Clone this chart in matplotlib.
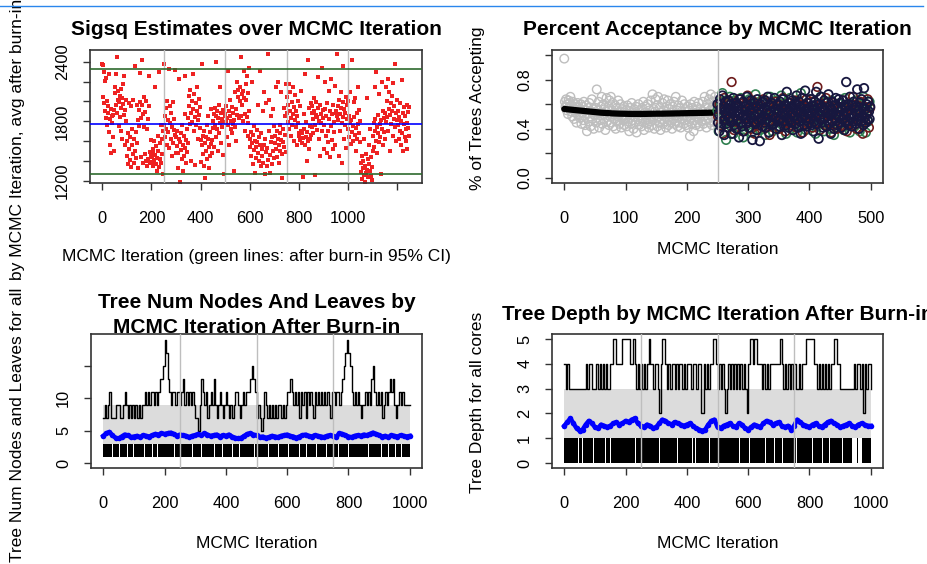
import numpy as np
import matplotlib.pyplot as plt
from matplotlib.patches import Rectangle
from matplotlib.lines import Line2D

# ---- data ----
# sigsq draws, one every ~2 iterations from 0 to 1250
sigsq = [
    2380, 2370, 2050, 1980, 2300, 2210, 1900, 2240, 1830, 2000, 1760, 1950, 1880, 1690, 2280, 1820, 1560, 1920, 1480, 1850, 1780, 1640, 1860, 1910, 1500,
    2090, 2150, 1960, 2280, 2450, 1880, 2020, 2110, 1750, 1990, 2060, 1840, 2130, 1700, 1930, 2040, 1620, 2180, 1970, 1860, 2260, 1910, 1560, 1800, 2010,
    1600, 1450, 1370, 1680, 1980, 1520, 1410, 1640, 1950, 1340, 1560, 1720, 1470, 2020, 1620, 1380, 1500, 2360, 1690, 1430, 1960, 1580, 1330, 1810, 1750,
    1910, 1990, 2290, 1830, 1440, 1960, 2420, 1380, 1870, 1740, 2050, 1470, 1890, 1400, 2000, 1350, 1720, 1820, 1420, 2260, 1950, 1490, 1380, 1610, 1450,
    1440, 1390, 1520, 1350, 1480, 1600, 1410, 2150, 1460, 1370, 1550, 1300, 1430, 1650, 1500, 1340, 2300, 1420, 1580, 1760, 1380, 1620, 1470, 1270, 1700,
    1760, 2380, 1850, 1640, 1930, 1720, 1560, 2000, 1810, 1690, 2330, 1530, 1780, 1950, 1620, 1880, 1450, 1740, 1990, 1580, 1820, 1710, 2320, 1660, 1480,
    1640, 1550, 1700, 1480, 1330, 1620, 2230, 1590, 1190, 1680, 1510, 1420, 1760, 1560, 1300, 1650, 1450, 1870, 1530, 2260, 1610, 1380, 1720, 1490, 1580,
    1830, 2060, 1950, 1770, 2120, 1880, 1400, 2000, 1790, 2280, 1920, 1700, 2080, 1840, 1360, 1980, 1760, 1900, 2150, 1810, 1620, 1860, 2030, 1730, 1940,
    1610, 1390, 1560, 2380, 1650, 1470, 1700, 1350, 1580, 1230, 1640, 1500, 1760, 1420, 1620, 1850, 1540, 1330, 1690, 1450, 1920, 1570, 1610, 1480, 1730,
    1800, 1870, 1540, 1930, 1760, 2400, 1850, 1640, 1900, 1720, 1500, 1830, 1960, 1680, 1780, 2150, 1580, 1880, 1740, 1820, 1460, 1910, 1790, 1270, 1850,
    1870, 1790, 1950, 1640, 1830, 2310, 1760, 1900, 1560, 1850, 2020, 1720, 1800, 1680, 1940, 1770, 1880, 1300, 1810, 2100, 1740, 1920, 1600, 1860, 2200,
    2050, 2120, 2540, 1830, 2000, 2150, 2450, 1850, 2080, 1960, 2110, 1800, 2310, 2040, 1870, 1700, 2180, 2020, 1840, 2260, 1780, 2090, 1650, 1900, 2340,
    1620, 1540, 1690, 1450, 1580, 2200, 1370, 1660, 1510, 1750, 1600, 1280, 1540, 1430, 1710, 1590, 1960, 1480, 1640, 1400, 2310, 1560, 1350, 1680, 1520,
    1450, 1900, 1380, 1560, 2100, 1270, 1620, 1490, 1980, 1350, 1530, 2480, 1410, 1700, 2020, 1460, 1280, 1590, 1850, 1370, 1640, 1920, 1500, 1430, 1750,
    1580, 1650, 2150, 1520, 1700, 1440, 1620, 2200, 1560, 1380, 1680, 1760, 1500, 2100, 1610, 1470, 1230, 1720, 1590, 1930, 1540, 1660, 1850, 1490, 2180,
    1880, 2050, 1790, 1960, 2180, 1720, 1900, 2100, 1830, 1650, 1990, 1760, 2150, 1870, 1600, 1940, 1810, 2070, 1740, 1900, 1560, 1850, 2000, 1780, 1680,
    1650, 1610, 1950, 1700, 2110, 1580, 1680, 1240, 1630, 1870, 1720, 1560, 2280, 1640, 1790, 1400, 1690, 2420, 1600, 1930, 1520, 1750, 1620, 1980, 1660,
    1880, 1740, 1950, 1820, 1680, 2040, 1900, 1760, 1260, 1860, 1990, 1710, 1840, 2250, 1930, 1620, 1800, 1960, 1450, 1870, 1780, 2340, 1700, 1910, 1830,
    1760, 1520, 1920, 2200, 1650, 1850, 1480, 1980, 1700, 1590, 2110, 1820, 1440, 1900, 1750, 2230, 1610, 1870, 1520, 1960, 1690, 1790, 2160, 1560, 1880,
    1900, 1850, 2480, 1950, 1810, 1450, 2020, 1870, 1700, 1930, 2100, 1780, 1380, 1990, 1840, 2360, 1620, 1920, 1760, 1880, 2050, 1530, 1960, 1820, 2000,
    1720, 1850, 1640, 2100, 1780, 1570, 1810, 2420, 1690, 1750, 1600, 1990, 1840, 1660, 2040, 1730, 1500, 1880, 1620, 2150, 1770, 1680, 1910, 1590, 1800,
    1380, 1290, 1450, 1220, 1330, 1400, 1260, 1620, 1190, 1350, 1470, 1280, 2040, 1310, 1420, 1240, 1560, 1370, 1300, 1720, 1250, 1440, 1340, 1210, 1500,
    1650, 1780, 1540, 2150, 1700, 1820, 1600, 2300, 1740, 1480, 1860, 1680, 2080, 1590, 1770, 1640, 1270, 1810, 1720, 2200, 1560, 1900, 1690, 1830, 1620,
    1880, 2150, 1790, 2000, 1840, 2230, 1700, 1920, 2100, 1860, 1500, 1980, 1770, 2060, 1900, 1650, 2190, 1820, 1950, 1740, 2380, 1880, 1600, 2020, 1810,
    1760, 1900, 1620, 1840, 1700, 1980, 1560, 1800, 2220, 1680, 1880, 1500, 1770, 1940, 1640, 1850, 1720, 1600, 1960, 1780, 1520, 1890, 1730, 1940, 1650,
]
sigsq_last_iter = 1249
sigsq_avg = 1775
sigsq_ci = [1272, 2322]
marks_sigsq = [250, 500, 750, 1000]

# percent of trees accepting (in %), burn-in chain then three chains after burn-in
acc_burn = [
    97, 62, 58, 64, 55, 60, 52, 63, 57, 61, 66, 54, 59, 50, 62, 56, 48, 60, 53, 58, 45, 57, 61, 51, 55,
    49, 56, 60, 44, 53, 58, 47, 62, 51, 43, 55, 59, 38, 52, 57, 46, 61, 50, 42, 54, 64, 48, 56, 40, 53,
    51, 57, 45, 72, 49, 55, 62, 41, 53, 47, 58, 66, 44, 52, 60, 48, 56, 39, 54, 65, 46, 51, 58, 43, 63,
    50, 66, 45, 55, 61, 42, 53, 48, 59, 40, 52, 57, 46, 63, 50, 44, 54, 60, 41, 49, 56, 47, 58, 43, 51,
    48, 55, 42, 59, 46, 52, 38, 57, 49, 44, 61, 47, 53, 40, 56, 50, 45, 58, 37, 52, 48, 60, 43, 55, 46,
    51, 42, 57, 47, 62, 39, 53, 45, 58, 49, 44, 60, 52, 41, 55, 46, 63, 50, 43, 68, 48, 56, 40, 54, 64,
    47, 59, 42, 66, 50, 45, 57, 39, 53, 48, 61, 44, 55, 64, 46, 52, 41, 58, 49, 63, 43, 56, 47, 60, 45,
    53, 40, 58, 48, 62, 44, 51, 66, 46, 55, 42, 59, 50, 45, 57, 41, 54, 63, 48, 52, 44, 60, 47, 56, 43,
    50, 58, 41, 55, 46, 34, 60, 49, 44, 57, 52, 38, 62, 47, 53, 43, 58, 50, 45, 61, 48, 42, 56, 51, 46,
    54, 62, 44, 50, 66, 47, 57, 41, 53, 60, 48, 64, 45, 55, 68, 50, 43, 58, 62, 46, 52, 66, 49, 57, 44,
]
acc_navy = [
    60, 45, 52, 38, 64, 56, 42, 50, 67, 47, 58, 35, 54, 62, 44, 51, 57, 41, 63, 49, 55, 46, 60, 36, 53,
    48, 65, 43, 57, 51, 61, 40, 55, 47, 59, 33, 52, 64, 45, 56, 42, 50, 62, 38, 54, 48, 58, 44, 66, 51,
    46, 59, 41, 55, 63, 49, 53, 31, 57, 45, 61, 50, 44, 58, 39, 64, 52, 47, 56, 30, 60, 48, 54, 42, 62,
    50, 57, 45, 63, 41, 55, 48, 66, 52, 37, 59, 46, 54, 61, 43, 50, 58, 44, 65, 49, 56, 40, 53, 60, 47,
    55, 42, 62, 48, 57, 35, 53, 64, 46, 51, 59, 43, 56, 70, 49, 54, 41, 61, 47, 58, 45, 52, 63, 39, 57,
    50, 60, 44, 55, 67, 48, 53, 41, 62, 46, 58, 36, 54, 65, 49, 51, 43, 59, 71, 47, 56, 42, 61, 52, 45,
    57, 48, 64, 43, 53, 59, 38, 55, 46, 62, 50, 70, 44, 57, 52, 32, 60, 48, 54, 66, 45, 58, 41, 56, 63,
    49, 55, 42, 61, 53, 47, 68, 44, 58, 51, 36, 56, 62, 46, 53, 40, 59, 48, 65, 52, 43, 57, 50, 64, 45,
    54, 61, 41, 56, 48, 63, 51, 39, 58, 45, 78, 53, 47, 60, 43, 55, 66, 49, 52, 42, 59, 46, 62, 50, 57,
    44, 58, 52, 72, 47, 55, 40, 61, 53, 46, 64, 50, 57, 43, 73, 49, 56, 45, 60, 52, 47, 62, 54, 48, 58,
]
acc_green = [
    55, 38, 62, 48, 69, 44, 57, 31, 60, 50, 66, 42, 54, 36, 63, 47, 58, 40, 52, 65, 45, 33, 59, 49, 56,
    41, 64, 53, 37, 60, 46, 68, 51, 43, 57, 39, 62, 48, 55, 35, 61, 50, 44, 66, 53, 38, 58, 46, 63, 41,
    56, 49, 67, 43, 52, 60, 36, 54, 47, 65, 40, 58, 51, 44, 62, 37, 55, 48, 69, 42, 57, 50, 39, 61, 46,
    53, 64, 41, 58, 47, 36, 60, 52, 44, 66, 49, 55, 38, 62, 50, 45, 57, 40, 63, 51, 35, 59, 47, 54, 43,
    61, 48, 56, 39, 65, 52, 44, 58, 37, 60, 49, 55, 42, 63, 47, 53, 38, 59, 45, 66, 50, 37, 57, 46, 62,
]
acc_red = [
    50, 60, 43, 57, 36, 65, 48, 53, 41, 62, 46, 78, 55, 39, 59, 47, 52, 64, 44, 56, 38, 61, 49, 54, 67,
    45, 58, 40, 63, 51, 36, 57, 47, 60, 43, 55, 49, 64, 41, 52, 58, 46, 35, 61, 50, 44, 56, 62, 48, 53,
    40, 59, 47, 65, 52, 38, 56, 45, 61, 50, 43, 57, 48, 63, 41, 54, 60, 46, 51, 37, 58, 49, 64, 44, 55,
    47, 62, 41, 56, 51, 45, 74, 53, 39, 60, 48, 57, 43, 65, 50, 46, 59, 37, 54, 61, 44, 52, 40, 58, 49,
    56, 42, 63, 48, 53, 38, 60, 46, 57, 51, 66, 43, 55, 40, 59, 47, 62, 50, 36, 58, 45, 53, 64, 41, 57,
]
# smoothed acceptance over burn-in, every 10 iterations
acc_smooth = [0.561, 0.556, 0.551, 0.546, 0.541, 0.536, 0.531, 0.528, 0.525, 0.523, 0.522, 0.521, 0.521,
              0.521, 0.522, 0.523, 0.523, 0.524, 0.525, 0.526, 0.527, 0.528, 0.529, 0.530, 0.531, 0.532]
burnin = 250

# tree size after burn-in: max over trees every 5 iterations, mean every 10
nodes_max = [
    7, 9, 7, 9, 11, 7, 7, 7, 9, 9, 9, 7, 7, 9, 11, 9, 7, 9, 7, 9,
    7, 9, 7, 9, 7, 9, 9, 11, 9, 11, 9, 11, 11, 9, 11, 9, 11, 13, 13, 15,
    19, 17, 13, 11, 9, 11, 11, 9, 11, 11, 9, 11, 13, 9, 11, 9, 11, 9, 11, 9,
    7, 7, 5, 9, 13, 11, 9, 11, 7, 9, 11, 9, 13, 9, 7, 9, 11, 9, 7, 9,
    11, 9, 7, 9, 7, 9, 11, 11, 9, 7, 9, 11, 9, 11, 11, 11, 13, 15, 13, 11,
    7, 9, 7, 5, 7, 11, 9, 7, 9, 7, 9, 7, 9, 7, 9, 9, 7, 9, 7, 9,
    11, 11, 13, 11, 9, 11, 9, 11, 7, 11, 9, 11, 7, 11, 9, 11, 9, 7, 11, 9,
    11, 9, 11, 9, 11, 9, 11, 9, 7, 11, 11, 9, 11, 11, 9, 11, 13, 15, 17, 19,
    17, 15, 11, 9, 11, 9, 11, 9, 7, 9, 9, 11, 9, 11, 9, 13, 15, 11, 9, 11,
    9, 11, 7, 9, 11, 9, 11, 13, 11, 13, 9, 7, 9, 11, 9, 11, 9, 9, 9, 9, 9,
]
nodes_mean = [
    4.2, 4.6, 4.8, 4.3, 3.9, 3.8, 4.1, 4.4, 4.3, 4.0, 4.1, 4.2, 4.0, 4.3, 4.2, 4.1, 4.3, 4.5, 4.4, 4.6,
    4.5, 4.6, 4.7, 4.5, 4.2, 4.4, 4.3, 4.2, 4.0, 4.2, 4.3, 4.5, 4.3, 4.6, 4.4, 4.2, 4.3, 4.4, 4.1, 4.3,
    4.2, 4.4, 4.1, 3.9, 3.8, 3.9, 4.2, 4.5, 4.6, 4.4, 4.3, 4.0, 4.1, 3.9, 4.0, 4.2, 4.1, 4.0, 4.2, 4.3,
    4.4, 4.2, 4.1, 3.9, 4.1, 4.3, 4.4, 4.2, 4.1, 4.3, 4.2, 4.1, 4.0, 4.2, 4.3, 4.2, 4.0, 4.6, 4.5, 4.3,
    4.1, 4.0, 4.2, 4.3, 4.2, 4.4, 4.3, 4.5, 4.7, 4.5, 4.3, 4.1, 4.2, 4.0, 4.3, 4.2, 4.1, 4.3, 4.2, 4.1, 4.2,
]
nodes_band = [1, 9]
nodes_min_band = [1, 3]
nodes_flat_runs = [(29, 32), (51, 54), (78, 81), (97, 100), (133, 136), (160, 163), (174, 177), (231, 234),
                   (290, 293), (318, 321), (362, 365), (389, 392), (420, 423), (444, 447), (493, 496),
                   (537, 540), (570, 573), (602, 605), (640, 643), (662, 665), (695, 698), (727, 730),
                   (766, 769), (800, 803), (820, 823), (864, 867), (907, 910), (930, 933), (951, 954), (973, 976)]

depth_max = [
    4, 3, 4, 3, 3, 3, 3, 3, 3, 3, 3, 3, 3, 3, 4, 3, 4, 4, 3, 3,
    3, 4, 3, 4, 3, 4, 3, 4, 3, 3, 4, 4, 5, 5, 4, 4, 4, 4, 5, 5,
    5, 5, 5, 4, 4, 5, 4, 3, 4, 3, 4, 3, 4, 3, 4, 5, 4, 4, 3, 4,
    4, 3, 2, 4, 5, 5, 4, 3, 4, 3, 4, 4, 3, 4, 3, 4, 4, 3, 4, 3,
    4, 4, 4, 3, 4, 4, 3, 4, 4, 2, 2, 4, 3, 4, 3, 4, 4, 5, 5, 4,
    3, 4, 3, 4, 3, 2, 3, 4, 3, 4, 3, 4, 3, 4, 3, 4, 3, 4, 3, 2,
    4, 5, 5, 4, 5, 5, 4, 4, 4, 3, 4, 3, 4, 3, 4, 4, 4, 4, 4, 4,
    4, 5, 4, 3, 4, 3, 4, 3, 4, 3, 4, 3, 3, 4, 3, 4, 4, 4, 5, 5,
    5, 5, 5, 4, 4, 3, 4, 3, 4, 3, 4, 3, 4, 3, 4, 4, 5, 5, 4, 4,
    3, 3, 3, 3, 3, 3, 3, 3, 3, 4, 3, 4, 4, 3, 4, 2, 4, 3, 4, 4, 3,
]
depth_mean = [
    1.5, 1.65, 1.8, 1.6, 1.4, 1.3, 1.35, 1.55, 1.7, 1.6, 1.45, 1.4, 1.55, 1.5, 1.45, 1.5, 1.6, 1.65, 1.55, 1.6,
    1.7, 1.65, 1.75, 1.8, 1.6, 1.5, 1.45, 1.55, 1.5, 1.4, 1.45, 1.6, 1.75, 1.7, 1.6, 1.55, 1.65, 1.6, 1.55, 1.5,
    1.55, 1.6, 1.5, 1.4, 1.35, 1.3, 1.35, 1.55, 1.7, 1.75, 1.45, 1.4, 1.5, 1.55, 1.6, 1.5, 1.45, 1.6, 1.55, 1.4,
    1.35, 1.45, 1.55, 1.5, 1.45, 1.6, 1.7, 1.65, 1.55, 1.6, 1.65, 1.5, 1.45, 1.5, 1.35, 1.5, 1.75, 1.65, 1.55, 1.5,
    1.45, 1.55, 1.6, 1.5, 1.45, 1.55, 1.65, 1.7, 1.6, 1.55, 1.45, 1.5, 1.55, 1.6, 1.5, 1.45, 1.55, 1.6, 1.55, 1.5, 1.5,
]
depth_band = [1, 3]
depth_min_band = [0, 1]
depth_flat_runs = [(46, 49), (59, 62), (95, 98), (133, 136), (149, 152), (231, 234), (275, 278), (308, 311),
                   (367, 370), (417, 420), (427, 430), (471, 474), (536, 539), (569, 572), (602, 605),
                   (624, 627), (656, 659), (684, 687), (711, 714), (755, 758), (809, 812), (842, 845),
                   (864, 867), (907, 910), (940, 944), (946, 955), (957, 972)]
marks_trees = [250, 500, 750]
tree_step, mean_step = 5, 10

plt.rcParams['font.family'] = ['Liberation Sans', 'DejaVu Sans']

W, H = 928, 564
TITLE_FS, LABEL_FS, TICK_FS = 15, 12.5, 11.8
fig = plt.figure(figsize=(W / 100, H / 100), dpi=100)


def px_axes(left, top, right, bottom):
    return fig.add_axes([left / W, (H - bottom) / H, (right - left) / W, (bottom - top) / H])


def ftext(x, y, s, **kw):
    return fig.text(x / W, (H - y) / H, s, **kw)


def style(ax, xt, xl, yt, yl):
    for s in ax.spines.values():
        s.set_linewidth(1.2)
        s.set_color('#333333')
    ax.set_xticks(xt, xl)
    ax.set_yticks(yt, yl, rotation=90, va='center')
    ax.tick_params(axis='both', length=5.3, width=1.0, color='#333333', labelsize=TICK_FS)
    ax.tick_params(axis='x', pad=14.5)
    ax.tick_params(axis='y', pad=9)


GRAY = '#BEBEBE'

# ---------------- panel 1: sigsq ----------------
ax1 = px_axes(90, 50, 422, 183)
it1 = np.linspace(0, sigsq_last_iter, len(sigsq))
ax1.plot(it1, sigsq, ls='none', marker='s', ms=2.5, mew=0, color='#ee2222', zorder=2)
for v in marks_sigsq:
    ax1.axvline(v, color=GRAY, lw=1.0, zorder=3)
ax1.axhline(sigsq_avg, color='blue', lw=1.2, zorder=4)
for v in sigsq_ci:
    ax1.axhline(v, color='#2d6a2d', lw=1.2, zorder=4)
ax1.set_xlim(-50, 1300)
ax1.set_ylim(1180, 2518)
style(ax1, range(0, 1201, 200), ['0', '200', '400', '600', '800', '1000', ''],
      range(1200, 2401, 200), ['1200', '', '', '1800', '', '', '2400'])
ftext(256, 34.7, 'Sigsq Estimates over MCMC Iteration', ha='center', va='baseline',
      fontsize=TITLE_FS, fontweight='bold')
ftext(256, 261, 'MCMC Iteration (green lines: after burn-in 95% CI)', ha='center', va='baseline',
      fontsize=LABEL_FS)

# ---------------- panel 2: acceptance ----------------
ax2 = px_axes(552, 50, 883, 183)
ax2.scatter(np.arange(len(acc_burn)), np.array(acc_burn) / 100, s=38, facecolors='none',
            edgecolors=GRAY, linewidths=1.0, zorder=2)
ax2.plot(np.arange(len(acc_smooth)) * 10, acc_smooth, color='black', lw=4.5,
         solid_capstyle='round', zorder=3)
ax2.scatter(burnin + np.arange(len(acc_green)) * 2, np.array(acc_green) / 100, s=38, facecolors='none',
            edgecolors='#2f7f4f', linewidths=1.2, zorder=4)
ax2.scatter(burnin + 1 + np.arange(len(acc_red)) * 2, np.array(acc_red) / 100, s=38, facecolors='none',
            edgecolors='#6e1c1c', linewidths=1.2, zorder=4)
ax2.scatter(burnin + np.arange(len(acc_navy)), np.array(acc_navy) / 100, s=38, facecolors='none',
            edgecolors='#17173f', linewidths=1.3, zorder=5)
ax2.axvline(burnin, color=GRAY, lw=1.0, zorder=6)
ax2.set_xlim(-20, 520)
ax2.set_ylim(-0.04, 1.04)
style(ax2, range(0, 501, 100), ['0', '100', '200', '300', '400', '500'],
      [0, 0.2, 0.4, 0.6, 0.8, 1.0], ['0.0', '', '0.4', '', '0.8', ''])
ftext(717.5, 35, 'Percent Acceptance by MCMC Iteration', ha='center', va='baseline',
      fontsize=TITLE_FS, fontweight='bold')
ftext(717.5, 254, 'MCMC Iteration', ha='center', va='baseline', fontsize=LABEL_FS)
ftext(478, 108, '% of Trees Accepting', ha='center', va='center', rotation=90, fontsize=LABEL_FS)


# ---------------- panels 3 & 4: tree size / depth ----------------
def tree_panel(ax, band, min_band, flat_runs, max_vals, mean_vals):
    ax.fill_between([0, 1000], band[0], band[1], color='#DCDCDC', lw=0, zorder=1)
    ax.fill_between([0, 1000], min_band[0], min_band[1], color='black', lw=0, zorder=2)
    for a, b in flat_runs:
        ax.fill_between([a, b], min_band[0], min_band[1], color='white', lw=0, zorder=2.5)
    xs = np.arange(len(max_vals)) * tree_step
    ax.step(xs, max_vals, where='post', color='black', lw=1.0, zorder=3)
    xm = np.arange(len(mean_vals)) * mean_step
    ax.plot(xm, mean_vals, color='blue', lw=3.2, marker='o', ms=4, mew=0, zorder=4)
    for v in marks_trees:
        ax.axvline(v, color=GRAY, lw=1.0, zorder=5)
    ax.set_xlim(-40, 1040)


ax3 = px_axes(91, 334, 422, 468)
tree_panel(ax3, nodes_band, nodes_min_band, nodes_flat_runs, nodes_max, nodes_mean)
ax3.set_ylim(-0.75, 19.9)
style(ax3, range(0, 1001, 200), ['0', '200', '400', '600', '800', '1000'],
      [0, 5, 10, 15], ['0', '5', '10', ''])
ftext(256.5, 308.3, 'Tree Num Nodes And Leaves by', ha='center', va='baseline',
      fontsize=TITLE_FS, fontweight='bold')
ftext(256.5, 332.7, 'MCMC Iteration After Burn-in', ha='center', va='baseline',
      fontsize=TITLE_FS, fontweight='bold')
ftext(256.5, 548.3, 'MCMC Iteration', ha='center', va='baseline', fontsize=LABEL_FS)

ax4 = px_axes(552, 334, 883, 468)
tree_panel(ax4, depth_band, depth_min_band, depth_flat_runs, depth_max, depth_mean)
ax4.set_ylim(-0.2, 5.2)
style(ax4, range(0, 1001, 200), ['0', '200', '400', '600', '800', '1000'],
      range(0, 6), ['0', '1', '2', '3', '4', '5'])
ftext(717.5, 320, 'Tree Depth by MCMC Iteration After Burn-in', ha='center', va='baseline',
      fontsize=TITLE_FS, fontweight='bold')
ftext(717.5, 548.3, 'MCMC Iteration', ha='center', va='baseline', fontsize=LABEL_FS)
ftext(478, 402, 'Tree Depth for all cores', ha='center', va='center', rotation=90, fontsize=LABEL_FS)

# left-hand axis titles: each one only shows inside its own half of the page,
# so the lower one is drawn first and masked above the half-way line
t3 = ftext(18, 562.5, 'Tree Num Nodes and Leaves for all cores', ha='center', va='bottom',
           rotation=90, fontsize=LABEL_FS, zorder=1)
fig.add_artist(Rectangle((0, (H - 282.5) / H), 40 / W, 282.5 / H, transform=fig.transFigure,
                         facecolor='white', edgecolor='none', zorder=2))
t1 = ftext(18, 280, 'by MCMC Iteration, avg after burn-in', ha='center', va='bottom',
           rotation=90, fontsize=LABEL_FS, zorder=3)

# thin blue rule across the top of the screenshot
fig.add_artist(Line2D([0, 923 / W], [(H - 6) / H, (H - 6) / H], color='#2a86ec', lw=1.0,
                      transform=fig.transFigure, zorder=4))

fig.savefig('out.png', dpi=100)
